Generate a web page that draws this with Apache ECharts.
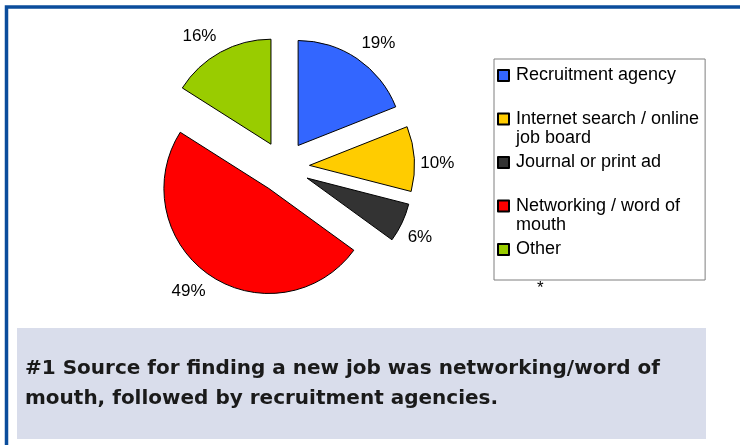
<!DOCTYPE html>
<html>
<head>
<meta charset="utf-8">
<script src="https://cdn.jsdelivr.net/npm/echarts@6/dist/echarts.min.js"></script>
<style>
html,body{margin:0;padding:0;background:#fff;}
#chart{width:740px;height:445px;}
</style>
</head>
<body>
<div id="chart"></div>
<script>
// ---- data ----
var categories = ['Recruitment agency', 'Internet search / online job board', 'Journal or print ad', 'Networking / word of mouth', 'Other'];
var legendLines = [['Recruitment agency'], ['Internet search / online', 'job board'], ['Journal or print ad'], ['Networking / word of', 'mouth'], ['Other']];
var values = [19, 10, 6, 49, 16];
var colors = ['#3366ff', '#ffcc00', '#333333', '#ff0000', '#99cc00'];
var captionLines = ['#1 Source for finding a new job was networking/word of', 'mouth, followed by recruitment agencies.'];
var footnote = '*';

// ---- chart ----
var chart = echarts.init(document.getElementById('chart'), null, {renderer: 'canvas'});
var pieData = categories.map(function (c, i) {
  return { name: c, value: values[i], selected: true, itemStyle: { color: colors[i] } };
});
var legendText = {};
categories.forEach(function (c, i) {
  var l = legendLines[i];
  legendText[c] = l.length > 1 ? '\n' + l.join('\n') : l[0];
});
var total = values.reduce(function (a, b) { return a + b; }, 0);
function midAngle(idx) {
  var before = 0;
  for (var k = 0; k < idx; k++) before += values[k];
  return (before + values[idx] / 2) / total * 2 * Math.PI;
}

var option = {
  animation: false,
  backgroundColor: '#ffffff',
  color: colors,
  legend: {
    orient: 'vertical',
    left: 494,
    top: 59,
    data: categories,
    icon: 'rect',
    itemWidth: 11,
    itemHeight: 11,
    itemGap: 5.5,
    padding: [7, 6, 21, 3],
    borderColor: '#7f7f7f',
    borderWidth: 1,
    selectedMode: false,
    formatter: function (name) { return legendText[name]; },
    textStyle: { fontFamily: 'Liberation Sans, Arial, sans-serif', fontSize: 18, color: '#000', lineHeight: 19, padding: [0, 0, 0, 2] }
  },
  graphic: [
    { type: 'rect', shape: { x: 6.5, y: 7, width: 780, height: 480 }, style: { fill: null, stroke: '#0b4d9c', lineWidth: 3.5 }, silent: true },
    { type: 'rect', shape: { x: 17, y: 328, width: 689, height: 111 }, style: { fill: '#d9ddeb' }, silent: true },
    { type: 'text', left: 25, top: 354, style: { text: captionLines.join('\n'), font: 'bold 20px "DejaVu Sans", sans-serif', fill: '#1a1a1a', lineHeight: 30 }, silent: true },
    { type: 'text', left: 537, top: 280, style: { text: footnote, font: '17px "Liberation Sans", Arial, sans-serif', fill: '#000' }, silent: true }
  ],
  series: [{
    type: 'pie',
    center: [283.5, 167],
    radius: 105,
    startAngle: 90,
    clockwise: true,
    selectedMode: 'multiple',
    selectedOffset: 26,
    avoidLabelOverlap: false,
    data: pieData,
    itemStyle: { borderColor: '#000', borderWidth: 1 },
    select: { itemStyle: { borderColor: '#000', borderWidth: 1 } },
    emphasis: { disabled: true },
    label: {
      show: true,
      position: 'outside',
      formatter: function (p) { return p.value + '%'; },
      fontFamily: 'Liberation Sans, Arial, sans-serif',
      fontSize: 17,
      color: '#000',
      distanceToLabelLine: 2
    },
    labelLine: { show: false, length: 4, length2: 0 },
    labelLayout: function (params) {
      var a = midAngle(params.dataIndex);
      var vy = -Math.cos(a);
      var d = 30 * vy + 7;
      return { dy: Math.max(-12.5, Math.min(12.5, d)) };
    }
  }]
};
chart.setOption(option);
</script>
</body>
</html>
